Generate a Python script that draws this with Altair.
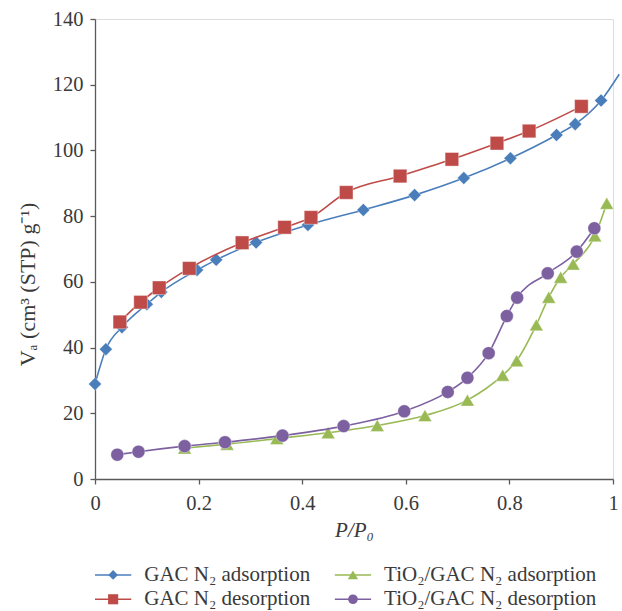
import altair as alt
import pandas as pd

# ---- data ----
gac_ads_x = [0.0, 0.021, 0.052, 0.100, 0.128, 0.197, 0.234, 0.311, 0.411, 0.518,
             0.617, 0.712, 0.802, 0.891, 0.927, 0.977, 1.012]
gac_ads_y = [28.9, 39.5, 46.2, 53.2, 56.9, 63.6, 66.7, 72.0, 77.3, 81.9,
             86.4, 91.6, 97.6, 104.7, 108.0, 115.2, 123.2]

gac_des_x = [0.048, 0.088, 0.124, 0.182, 0.284, 0.366, 0.417, 0.485, 0.589,
             0.689, 0.776, 0.838, 0.939]
gac_des_y = [47.8, 53.8, 58.2, 64.1, 71.9, 76.6, 79.6, 87.2, 92.2,
             97.3, 102.2, 105.9, 113.4]

tio_ads_x = [0.173, 0.255, 0.351, 0.450, 0.545, 0.637, 0.719, 0.787, 0.814,
             0.852, 0.876, 0.899, 0.923, 0.965, 0.988]
tio_ads_y = [9.4, 10.6, 12.3, 14.1, 16.3, 19.3, 24.0, 31.6, 36.0,
             46.9, 55.3, 61.4, 65.4, 74.0, 83.9]

tio_des_x = [0.043, 0.084, 0.173, 0.251, 0.362, 0.480, 0.597, 0.681, 0.719,
             0.760, 0.795, 0.815, 0.874, 0.930, 0.964]
tio_des_y = [7.4, 8.3, 10.0, 11.2, 13.2, 16.1, 20.6, 26.5, 30.8,
             38.3, 49.6, 55.2, 62.6, 69.2, 76.3]

series_names = ["GAC N₂ adsorption", "GAC N₂ desorption",
                "TiO₂/GAC N₂ adsorption", "TiO₂/GAC N₂ desorption"]
series_colors = ["#4A7EBB", "#BE4B48", "#98B954", "#7D60A0"]
series_shapes = ["diamond", "square", "triangle-up", "circle"]
series_sizes = [170, 185, 190, 170]

x_ticks = [0, 0.2, 0.4, 0.6, 0.8, 1]
y_ticks = [0, 20, 40, 60, 80, 100, 120, 140]

FONT = "Liberation Serif"
TEXT = "#3a3a3a"
AXIS = "#5a5a5a"

all_x = [gac_ads_x, gac_des_x, tio_ads_x, tio_des_x]
all_y = [gac_ads_y, gac_des_y, tio_ads_y, tio_des_y]

xscale = alt.Scale(domain=[0, 1], nice=False, zero=False)
yscale = alt.Scale(domain=[0, 140], nice=False)

layers = []
for i, (xs, ys) in enumerate(zip(all_x, all_y)):
    df = pd.DataFrame({"x": xs, "y": ys, "series": series_names[i]})
    line = alt.Chart(df).mark_line(
        color=series_colors[i], strokeWidth=1.6, interpolate="monotone"
    ).encode(
        x=alt.X("x:Q", scale=xscale),
        y=alt.Y("y:Q", scale=yscale),
        order="x:Q",
    )
    pts = alt.Chart(df[df["x"] <= 1.0]).mark_point(
        shape=series_shapes[i], filled=True, size=series_sizes[i],
        color=series_colors[i], opacity=1, stroke="white", strokeWidth=0.4,
    ).encode(
        x=alt.X("x:Q", scale=xscale),
        y=alt.Y("y:Q", scale=yscale),
    )
    layers += [line, pts]

# ---- axes (carried by an invisible layer) ----
axes_df = pd.DataFrame({"x": [0, 1], "y": [0, 140]})
axes = alt.Chart(axes_df).mark_point(opacity=0).encode(
    x=alt.X("x:Q", scale=xscale, axis=alt.Axis(
        values=x_ticks, format="~g", title="P/P₀", grid=False,
        domainColor=AXIS, domainWidth=1.3, tickColor=AXIS, tickWidth=1.3,
        tickSize=5, labelFont=FONT, labelFontSize=20.5, labelColor=TEXT,
        labelPadding=9, labelFlush=False,
        titleFont=FONT, titleFontSize=21, titleFontStyle="italic",
        titleFontWeight="normal", titleColor=TEXT,
        titleY=57, titleBaseline="alphabetic")),
    y=alt.Y("y:Q", scale=yscale, axis=alt.Axis(
        values=y_ticks, title="Vₐ (cm³ (STP) g⁻¹)", grid=False,
        domainColor=AXIS, domainWidth=1.3, tickColor=AXIS, tickWidth=1.3,
        tickSize=5, labelFont=FONT, labelFontSize=20.5, labelColor=TEXT,
        labelPadding=7,
        titleFont=FONT, titleFontSize=22, titleFontWeight="normal",
        titleColor=TEXT, titleX=-68, titleY=265, titleAngle=270,
        titleAlign="center", titleBaseline="middle")),
)

# ---- manual legend (placed through the same scales, below the plot) ----
leg_marker_x = [0.035, 0.035, 0.498, 0.498]
leg_row_y = [-29.2, -36.6, -29.2, -36.6]
leg_half = 0.035
leg_text_dx = 0.06
leg_layers = []
for i in range(4):
    ldf = pd.DataFrame({
        "x": [leg_marker_x[i]], "y": [leg_row_y[i]],
        "x1": [leg_marker_x[i] - leg_half], "x2": [leg_marker_x[i] + leg_half],
        "tx": [leg_marker_x[i] + leg_text_dx], "label": [series_names[i]],
    })
    leg_layers.append(alt.Chart(ldf).mark_rule(
        color=series_colors[i], strokeWidth=1.6).encode(
        x=alt.X("x1:Q", scale=xscale), x2="x2:Q", y=alt.Y("y:Q", scale=yscale)))
    leg_layers.append(alt.Chart(ldf).mark_point(
        shape=series_shapes[i], filled=True, size=series_sizes[i] * 0.55,
        color=series_colors[i], opacity=1).encode(
        x=alt.X("x:Q", scale=xscale), y=alt.Y("y:Q", scale=yscale)))
    leg_layers.append(alt.Chart(ldf).mark_text(
        align="left", baseline="middle", font=FONT, fontSize=21,
        color=TEXT).encode(
        x=alt.X("tx:Q", scale=xscale), y=alt.Y("y:Q", scale=yscale),
        text="label:N"))

chart = alt.layer(axes, *layers, *leg_layers).properties(
    width=518, height=460,
    autosize=alt.AutoSizeParams(type="none"),
    padding={"left": 95, "top": 19, "right": 9, "bottom": 132},
).configure_view(stroke=None).configure(background="white")

chart.save("out.html", embed_options={"renderer": "svg", "actions": False})
